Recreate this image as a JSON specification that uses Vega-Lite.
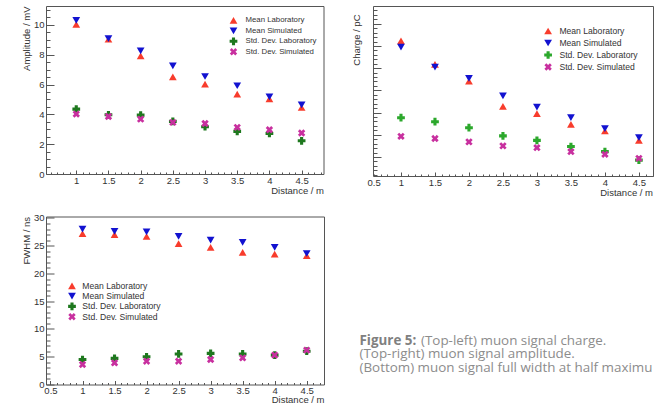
{
  "$schema": "https://vega.github.io/schema/vega-lite/v6.json",
  "padding": {"left": 20, "top": 5, "right": 0, "bottom": 0},
  "background": "white",
  "columns": 2,
  "spacing": {"row": 40.5, "column": 49},
  "bounds": "flush",
  "align": "each",
  "resolve": {"scale": {"color": "independent", "shape": "independent"}, "legend": {"color": "independent", "shape": "independent"}},
  "datasets": {
    "amp": [
      {"d": 1, "s": "Mean Laboratory", "v": 10.04}, {"d": 1.5, "s": "Mean Laboratory", "v": 9.04}, {"d": 2, "s": "Mean Laboratory", "v": 7.92}, {"d": 2.5, "s": "Mean Laboratory", "v": 6.52}, {"d": 3, "s": "Mean Laboratory", "v": 6.03}, {"d": 3.5, "s": "Mean Laboratory", "v": 5.36}, {"d": 4, "s": "Mean Laboratory", "v": 5.04}, {"d": 4.5, "s": "Mean Laboratory", "v": 4.46},
      {"d": 1, "s": "Mean Simulated", "v": 10.3}, {"d": 1.5, "s": "Mean Simulated", "v": 9.08}, {"d": 2, "s": "Mean Simulated", "v": 8.26}, {"d": 2.5, "s": "Mean Simulated", "v": 7.25}, {"d": 3, "s": "Mean Simulated", "v": 6.54}, {"d": 3.5, "s": "Mean Simulated", "v": 5.92}, {"d": 4, "s": "Mean Simulated", "v": 5.18}, {"d": 4.5, "s": "Mean Simulated", "v": 4.64},
      {"d": 1, "s": "Std. Dev. Laboratory", "v": 4.35}, {"d": 1.5, "s": "Std. Dev. Laboratory", "v": 3.97}, {"d": 2, "s": "Std. Dev. Laboratory", "v": 3.95}, {"d": 2.5, "s": "Std. Dev. Laboratory", "v": 3.53}, {"d": 3, "s": "Std. Dev. Laboratory", "v": 3.17}, {"d": 3.5, "s": "Std. Dev. Laboratory", "v": 2.86}, {"d": 4, "s": "Std. Dev. Laboratory", "v": 2.72}, {"d": 4.5, "s": "Std. Dev. Laboratory", "v": 2.23},
      {"d": 1, "s": "Std. Dev. Simulated", "v": 4.02}, {"d": 1.5, "s": "Std. Dev. Simulated", "v": 3.86}, {"d": 2, "s": "Std. Dev. Simulated", "v": 3.68}, {"d": 2.5, "s": "Std. Dev. Simulated", "v": 3.46}, {"d": 3, "s": "Std. Dev. Simulated", "v": 3.39}, {"d": 3.5, "s": "Std. Dev. Simulated", "v": 3.13}, {"d": 4, "s": "Std. Dev. Simulated", "v": 2.97}, {"d": 4.5, "s": "Std. Dev. Simulated", "v": 2.75}
    ],
    "chg": [
      {"d": 1, "s": "Mean Laboratory", "v": 6.23}, {"d": 1.5, "s": "Mean Laboratory", "v": 5.17}, {"d": 2, "s": "Mean Laboratory", "v": 4.42}, {"d": 2.5, "s": "Mean Laboratory", "v": 3.28}, {"d": 3, "s": "Mean Laboratory", "v": 2.95}, {"d": 3.5, "s": "Mean Laboratory", "v": 2.47}, {"d": 4, "s": "Mean Laboratory", "v": 2.17}, {"d": 4.5, "s": "Mean Laboratory", "v": 1.75},
      {"d": 1, "s": "Mean Simulated", "v": 5.95}, {"d": 1.5, "s": "Mean Simulated", "v": 5.05}, {"d": 2, "s": "Mean Simulated", "v": 4.54}, {"d": 2.5, "s": "Mean Simulated", "v": 3.75}, {"d": 3, "s": "Mean Simulated", "v": 3.25}, {"d": 3.5, "s": "Mean Simulated", "v": 2.77}, {"d": 4, "s": "Mean Simulated", "v": 2.28}, {"d": 4.5, "s": "Mean Simulated", "v": 1.87},
      {"d": 1, "s": "Std. Dev. Laboratory", "v": 2.77}, {"d": 1.5, "s": "Std. Dev. Laboratory", "v": 2.59}, {"d": 2, "s": "Std. Dev. Laboratory", "v": 2.32}, {"d": 2.5, "s": "Std. Dev. Laboratory", "v": 1.95}, {"d": 3, "s": "Std. Dev. Laboratory", "v": 1.75}, {"d": 3.5, "s": "Std. Dev. Laboratory", "v": 1.47}, {"d": 4, "s": "Std. Dev. Laboratory", "v": 1.24}, {"d": 4.5, "s": "Std. Dev. Laboratory", "v": 0.86},
      {"d": 1, "s": "Std. Dev. Simulated", "v": 1.93}, {"d": 1.5, "s": "Std. Dev. Simulated", "v": 1.83}, {"d": 2, "s": "Std. Dev. Simulated", "v": 1.68}, {"d": 2.5, "s": "Std. Dev. Simulated", "v": 1.5}, {"d": 3, "s": "Std. Dev. Simulated", "v": 1.42}, {"d": 3.5, "s": "Std. Dev. Simulated", "v": 1.24}, {"d": 4, "s": "Std. Dev. Simulated", "v": 1.12}, {"d": 4.5, "s": "Std. Dev. Simulated", "v": 0.94}
    ],
    "fwhm": [
      {"d": 1, "s": "Mean Laboratory", "v": 27.2}, {"d": 1.5, "s": "Mean Laboratory", "v": 27.0}, {"d": 2, "s": "Mean Laboratory", "v": 26.7}, {"d": 2.5, "s": "Mean Laboratory", "v": 25.4}, {"d": 3, "s": "Mean Laboratory", "v": 24.7}, {"d": 3.5, "s": "Mean Laboratory", "v": 23.8}, {"d": 4, "s": "Mean Laboratory", "v": 23.5}, {"d": 4.5, "s": "Mean Laboratory", "v": 23.2},
      {"d": 1, "s": "Mean Simulated", "v": 28.0}, {"d": 1.5, "s": "Mean Simulated", "v": 27.6}, {"d": 2, "s": "Mean Simulated", "v": 27.5}, {"d": 2.5, "s": "Mean Simulated", "v": 26.7}, {"d": 3, "s": "Mean Simulated", "v": 26.0}, {"d": 3.5, "s": "Mean Simulated", "v": 25.6}, {"d": 4, "s": "Mean Simulated", "v": 24.7}, {"d": 4.5, "s": "Mean Simulated", "v": 23.6},
      {"d": 1, "s": "Std. Dev. Laboratory", "v": 4.5}, {"d": 1.5, "s": "Std. Dev. Laboratory", "v": 4.7}, {"d": 2, "s": "Std. Dev. Laboratory", "v": 5.0}, {"d": 2.5, "s": "Std. Dev. Laboratory", "v": 5.5}, {"d": 3, "s": "Std. Dev. Laboratory", "v": 5.6}, {"d": 3.5, "s": "Std. Dev. Laboratory", "v": 5.5}, {"d": 4, "s": "Std. Dev. Laboratory", "v": 5.3}, {"d": 4.5, "s": "Std. Dev. Laboratory", "v": 6.0},
      {"d": 1, "s": "Std. Dev. Simulated", "v": 3.6}, {"d": 1.5, "s": "Std. Dev. Simulated", "v": 3.9}, {"d": 2, "s": "Std. Dev. Simulated", "v": 4.2}, {"d": 2.5, "s": "Std. Dev. Simulated", "v": 4.2}, {"d": 3, "s": "Std. Dev. Simulated", "v": 4.5}, {"d": 3.5, "s": "Std. Dev. Simulated", "v": 4.8}, {"d": 4, "s": "Std. Dev. Simulated", "v": 5.3}, {"d": 4.5, "s": "Std. Dev. Simulated", "v": 6.2}
    ],
    "cap": [
      {"x": -13.5, "y": 124.5, "t": "Figure 5:", "w": "b"},
      {"x": 48, "y": 124.5, "t": "(Top-left) muon signal charge.", "w": "n"},
      {"x": -13.5, "y": 137.8, "t": "(Top-right) muon signal amplitude.", "w": "n"},
      {"x": -13.5, "y": 151.1, "t": "(Bottom) muon signal full width at half maximum.", "w": "n"}
    ]
  },
  "concat": [
    {
      "width": 277.5, "height": 168,
      "data": {"name": "amp"},
      "layer": [
        {
          "mark": {"type": "point", "filled": true, "opacity": 1, "size": 60, "strokeWidth": 0},
          "encoding": {
            "x": {"field": "d", "type": "quantitative", "scale": {"domain": [0.53, 4.84], "nice": false, "zero": false},
              "axis": {"orient": "bottom", "values": [1, 1.5, 2, 2.5, 3, 3.5, 4, 4.5], "format": "~r", "ticks": false, "labelPadding": 1.5, "title": "Distance / m", "titleAnchor": "end", "titlePadding": 0}},
            "y": {"field": "v", "type": "quantitative", "scale": {"domain": [0, 11.27], "nice": false, "zero": false},
              "axis": {"orient": "left", "values": [0, 2, 4, 6, 8, 10], "format": "~r", "ticks": false, "labelPadding": 2, "title": "Amplitude / mV", "titleAnchor": "end", "titlePadding": 2}},
            "color": {"field": "s", "type": "nominal",
              "scale": {"domain": ["Mean Laboratory", "Mean Simulated", "Std. Dev. Laboratory", "Std. Dev. Simulated"], "range": ["#f83c2c", "#1212d0", "#1e781e", "#c8309f"]},
              "legend": {"orient": "none", "legendX": 183.5, "legendY": 10.3, "title": null, "labelFontSize": 7.8, "labelOffset": 8, "rowPadding": 2.5, "symbolSize": 60, "padding": 0}},
            "shape": {"field": "s", "type": "nominal",
              "scale": {"domain": ["Mean Laboratory", "Mean Simulated", "Std. Dev. Laboratory", "Std. Dev. Simulated"], "range": ["triangle-up", "triangle-down", "cross", "M0.46,-0.955L0.955,-0.46L0.495,0L0.955,0.46L0.46,0.955L0,0.495L-0.46,0.955L-0.955,0.46L-0.495,0L-0.955,-0.46L-0.46,-0.955L0,-0.495Z"]},
              "legend": {"orient": "none", "legendX": 183.5, "legendY": 10.3, "title": null, "labelFontSize": 7.8, "labelOffset": 8, "rowPadding": 2.5, "symbolSize": 60, "padding": 0}}
          }
        },
        {
          "mark": {"type": "point", "opacity": 0},
          "encoding": {
            "x": {"field": "d", "type": "quantitative", "scale": {"domain": [0.53, 4.84], "nice": false, "zero": false},
              "axis": {"orient": "bottom", "values": [1, 1.5, 2, 2.5, 3, 3.5, 4, 4.5], "labels": false, "ticks": true, "tickSize": -4, "title": null}},
            "y": {"field": "v", "type": "quantitative", "scale": {"domain": [0, 11.27], "nice": false, "zero": false},
              "axis": {"orient": "left", "values": [0, 2, 4, 6, 8, 10], "labels": false, "ticks": true, "tickSize": -8, "title": null}}
          }
        },
        {
          "mark": {"type": "point", "opacity": 0},
          "encoding": {
            "x": {"field": "d", "type": "quantitative", "scale": {"domain": [0.53, 4.84], "nice": false, "zero": false},
              "axis": {"orient": "bottom", "values": [0.6, 0.7, 0.8, 0.9, 1.1, 1.2, 1.3, 1.4, 1.6, 1.7, 1.8, 1.9, 2.1, 2.2, 2.3, 2.4, 2.6, 2.7, 2.8, 2.9, 3.1, 3.2, 3.3, 3.4, 3.6, 3.7, 3.8, 3.9, 4.1, 4.2, 4.3, 4.4, 4.6, 4.7, 4.8], "labels": false, "ticks": true, "tickSize": -2, "title": null}},
            "y": {"field": "v", "type": "quantitative", "scale": {"domain": [0, 11.27], "nice": false, "zero": false},
              "axis": {"orient": "left", "values": [0.5, 1, 1.5, 2.5, 3, 3.5, 4.5, 5, 5.5, 6.5, 7, 7.5, 8.5, 9, 9.5, 10.5, 11], "labels": false, "ticks": true, "tickSize": -4, "title": null}}
          }
        }
      ],
      "resolve": {"axis": {"x": "independent", "y": "independent"}}
    },
    {
      "width": 280, "height": 170,
      "data": {"name": "chg"},
      "layer": [
        {
          "mark": {"type": "point", "filled": true, "opacity": 1, "size": 60, "strokeWidth": 0},
          "encoding": {
            "x": {"field": "d", "type": "quantitative", "scale": {"domain": [0.5, 4.7], "range": [-6, 279.5], "nice": false, "zero": false},
              "axis": {"orient": "bottom", "values": [0.5, 1, 1.5, 2, 2.5, 3, 3.5, 4, 4.5], "format": "~r", "ticks": false, "labelPadding": 1, "labelFlush": true, "title": "Distance / m", "titleAnchor": "end", "titlePadding": 1}},
            "y": {"field": "v", "type": "quantitative", "scale": {"domain": [0.144, 7.8], "nice": false, "zero": false},
              "axis": {"orient": "left", "labels": false, "ticks": false, "title": "Charge / pC", "titleAnchor": "end", "titlePadding": 12, "titleY": 8}},
            "color": {"field": "s", "type": "nominal",
              "scale": {"domain": ["Mean Laboratory", "Mean Simulated", "Std. Dev. Laboratory", "Std. Dev. Simulated"], "range": ["#f83c2c", "#1212d0", "#2ca82c", "#c8309f"]},
              "legend": {"orient": "none", "legendX": 170.8, "legendY": 20.7, "title": null, "labelFontSize": 8.6, "labelOffset": 7, "rowPadding": 3, "symbolSize": 60, "padding": 0}},
            "shape": {"field": "s", "type": "nominal",
              "scale": {"domain": ["Mean Laboratory", "Mean Simulated", "Std. Dev. Laboratory", "Std. Dev. Simulated"], "range": ["triangle-up", "triangle-down", "cross", "M0.46,-0.955L0.955,-0.46L0.495,0L0.955,0.46L0.46,0.955L0,0.495L-0.46,0.955L-0.955,0.46L-0.495,0L-0.955,-0.46L-0.46,-0.955L0,-0.495Z"]},
              "legend": {"orient": "none", "legendX": 170.8, "legendY": 20.7, "title": null, "labelFontSize": 8.6, "labelOffset": 7, "rowPadding": 3, "symbolSize": 60, "padding": 0}}
          }
        },
        {
          "mark": {"type": "point", "opacity": 0},
          "encoding": {
            "x": {"field": "d", "type": "quantitative", "scale": {"domain": [0.5, 4.7], "range": [-6, 279.5], "nice": false, "zero": false},
              "axis": {"orient": "bottom", "values": [1, 1.5, 2, 2.5, 3, 3.5, 4, 4.5], "labels": false, "ticks": true, "tickSize": -4, "title": null}},
            "y": {"field": "v", "type": "quantitative", "scale": {"domain": [0.144, 7.8], "nice": false, "zero": false},
              "axis": {"orient": "left", "values": [1, 2, 3, 4, 5, 6, 7], "labels": false, "ticks": true, "tickSize": -8, "title": null}}
          }
        },
        {
          "mark": {"type": "point", "opacity": 0},
          "encoding": {
            "x": {"field": "d", "type": "quantitative", "scale": {"domain": [0.5, 4.7], "range": [-6, 279.5], "nice": false, "zero": false},
              "axis": {"orient": "bottom", "values": [0.6, 0.7, 0.8, 0.9, 1.1, 1.2, 1.3, 1.4, 1.6, 1.7, 1.8, 1.9, 2.1, 2.2, 2.3, 2.4, 2.6, 2.7, 2.8, 2.9, 3.1, 3.2, 3.3, 3.4, 3.6, 3.7, 3.8, 3.9, 4.1, 4.2, 4.3, 4.4, 4.6, 4.7], "labels": false, "ticks": true, "tickSize": -2, "title": null}},
            "y": {"field": "v", "type": "quantitative", "scale": {"domain": [0.144, 7.8], "nice": false, "zero": false},
              "axis": {"orient": "left", "values": [0.2, 0.4, 0.6, 0.8, 1.2, 1.4, 1.6, 1.8, 2.2, 2.4, 2.6, 2.8, 3.2, 3.4, 3.6, 3.8, 4.2, 4.4, 4.6, 4.8, 5.2, 5.4, 5.6, 5.8, 6.2, 6.4, 6.6, 6.8, 7.2, 7.4, 7.6], "labels": false, "ticks": true, "tickSize": -4, "title": null}}
          }
        }
      ],
      "resolve": {"axis": {"x": "independent", "y": "independent"}}
    },
    {
      "width": 278, "height": 168,
      "data": {"name": "fwhm"},
      "layer": [
        {
          "mark": {"type": "point", "filled": true, "opacity": 1, "size": 60, "strokeWidth": 0},
          "encoding": {
            "x": {"field": "d", "type": "quantitative", "scale": {"domain": [0.43, 4.77], "nice": false, "zero": false},
              "axis": {"orient": "bottom", "values": [0.5, 1, 1.5, 2, 2.5, 3, 3.5, 4, 4.5], "format": "~r", "ticks": false, "labelPadding": 0.5, "title": "Distance / m", "titleAnchor": "end", "titlePadding": 0}},
            "y": {"field": "v", "type": "quantitative", "scale": {"domain": [0, 30.27], "nice": false, "zero": false},
              "axis": {"orient": "left", "values": [0, 5, 10, 15, 20, 25, 30], "format": "~r", "ticks": false, "labelPadding": 2, "title": "FWHM / ns", "titleAnchor": "end", "titlePadding": 2}},
            "color": {"field": "s", "type": "nominal",
              "scale": {"domain": ["Mean Laboratory", "Mean Simulated", "Std. Dev. Laboratory", "Std. Dev. Simulated"], "range": ["#f83c2c", "#1212d0", "#1e781e", "#c8309f"]},
              "legend": {"orient": "none", "legendX": 21.7, "legendY": 65, "title": null, "labelFontSize": 8.6, "labelOffset": 6, "rowPadding": 1.3, "symbolSize": 60, "padding": 0}},
            "shape": {"field": "s", "type": "nominal",
              "scale": {"domain": ["Mean Laboratory", "Mean Simulated", "Std. Dev. Laboratory", "Std. Dev. Simulated"], "range": ["triangle-up", "triangle-down", "cross", "M0.46,-0.955L0.955,-0.46L0.495,0L0.955,0.46L0.46,0.955L0,0.495L-0.46,0.955L-0.955,0.46L-0.495,0L-0.955,-0.46L-0.46,-0.955L0,-0.495Z"]},
              "legend": {"orient": "none", "legendX": 21.7, "legendY": 65, "title": null, "labelFontSize": 8.6, "labelOffset": 6, "rowPadding": 1.3, "symbolSize": 60, "padding": 0}}
          }
        },
        {
          "mark": {"type": "point", "opacity": 0},
          "encoding": {
            "x": {"field": "d", "type": "quantitative", "scale": {"domain": [0.43, 4.77], "nice": false, "zero": false},
              "axis": {"orient": "bottom", "values": [0.5, 1, 1.5, 2, 2.5, 3, 3.5, 4, 4.5], "labels": false, "ticks": true, "tickSize": -4, "title": null}},
            "y": {"field": "v", "type": "quantitative", "scale": {"domain": [0, 30.27], "nice": false, "zero": false},
              "axis": {"orient": "left", "values": [0, 5, 10, 15, 20, 25, 30], "labels": false, "ticks": true, "tickSize": -8, "title": null}}
          }
        },
        {
          "mark": {"type": "point", "opacity": 0},
          "encoding": {
            "x": {"field": "d", "type": "quantitative", "scale": {"domain": [0.43, 4.77], "nice": false, "zero": false},
              "axis": {"orient": "bottom", "values": [0.6, 0.7, 0.8, 0.9, 1.1, 1.2, 1.3, 1.4, 1.6, 1.7, 1.8, 1.9, 2.1, 2.2, 2.3, 2.4, 2.6, 2.7, 2.8, 2.9, 3.1, 3.2, 3.3, 3.4, 3.6, 3.7, 3.8, 3.9, 4.1, 4.2, 4.3, 4.4, 4.6, 4.7], "labels": false, "ticks": true, "tickSize": -2, "title": null}},
            "y": {"field": "v", "type": "quantitative", "scale": {"domain": [0, 30.27], "nice": false, "zero": false},
              "axis": {"orient": "left", "values": [1, 2, 3, 4, 6, 7, 8, 9, 11, 12, 13, 14, 16, 17, 18, 19, 21, 22, 23, 24, 26, 27, 28, 29], "labels": false, "ticks": true, "tickSize": -4, "title": null}}
          }
        }
      ],
      "resolve": {"axis": {"x": "independent", "y": "independent"}}
    },
    {
      "width": 280, "height": 168,
      "view": {"stroke": null},
      "data": {"name": "cap"},
      "encoding": {
        "x": {"field": "x", "type": "quantitative", "scale": {"domain": [0, 280], "nice": false, "zero": false}, "axis": null},
        "y": {"field": "y", "type": "quantitative", "scale": {"domain": [0, 168], "nice": false, "zero": false, "reverse": true}, "axis": null},
        "text": {"field": "t", "type": "nominal"}
      },
      "layer": [
        {
          "transform": [{"filter": "datum.w === 'b'"}],
          "mark": {"type": "text", "align": "left", "baseline": "middle", "font": "Open Sans", "fontSize": 13.4, "fontWeight": "bold", "color": "#808080"}
        },
        {
          "transform": [{"filter": "datum.w === 'n'"}],
          "mark": {"type": "text", "align": "left", "baseline": "middle", "font": "Open Sans", "fontSize": 13.4, "color": "#8c8c8c", "limit": 294.5, "ellipsis": "\u200b"}
        }
      ]
    }
  ],
  "config": {
    "view": {"stroke": "#555", "strokeWidth": 1},
    "font": "Liberation Sans",
    "axis": {"grid": false, "domain": false, "tickSize": 0, "labelFont": "Liberation Sans", "titleFont": "Liberation Sans", "labelFontSize": 9.5, "titleFontSize": 9.5, "titleFontWeight": "normal", "labelColor": "#333", "titleColor": "#333", "tickColor": "#555", "tickWidth": 1, "minExtent": 0, "labelOverlap": false, "labelFlush": false},
    "legend": {"labelFont": "Liberation Sans", "labelColor": "#333", "symbolStrokeWidth": 0}
  }
}
